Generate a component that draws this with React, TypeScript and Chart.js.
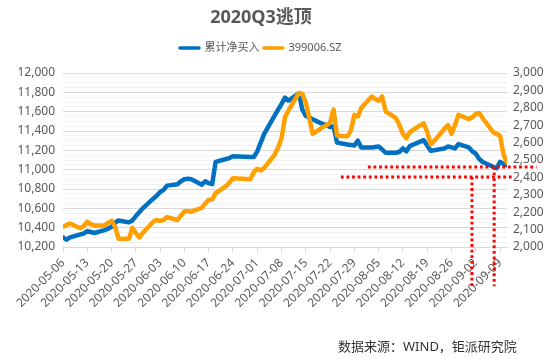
import { useEffect, useRef } from 'react';
import { Chart, registerables } from 'chart.js';

Chart.register(...registerables);

const titleText = '2020Q3逃顶';
const sourceText = '数据来源：WIND，钜派研究院';
const seriesNames = ['累计净买入', '399006.SZ'];

const dates = [
  '2020-05-06', '2020-05-07', '2020-05-08', '2020-05-11', '2020-05-12', '2020-05-13', '2020-05-14', '2020-05-15',
  '2020-05-18', '2020-05-19', '2020-05-20', '2020-05-21', '2020-05-22', '2020-05-25', '2020-05-26', '2020-05-27',
  '2020-05-28', '2020-05-29', '2020-06-01', '2020-06-02', '2020-06-03', '2020-06-04', '2020-06-05', '2020-06-08',
  '2020-06-09', '2020-06-10', '2020-06-11', '2020-06-12', '2020-06-15', '2020-06-16', '2020-06-17', '2020-06-18',
  '2020-06-19', '2020-06-22', '2020-06-23', '2020-06-24', '2020-06-29', '2020-06-30', '2020-07-01', '2020-07-02',
  '2020-07-03', '2020-07-06', '2020-07-07', '2020-07-08', '2020-07-09', '2020-07-10', '2020-07-13', '2020-07-14',
  '2020-07-15', '2020-07-16', '2020-07-17', '2020-07-20', '2020-07-21', '2020-07-22', '2020-07-23', '2020-07-24',
  '2020-07-27', '2020-07-28', '2020-07-29', '2020-07-30', '2020-07-31', '2020-08-03', '2020-08-04', '2020-08-05',
  '2020-08-06', '2020-08-07', '2020-08-10', '2020-08-11', '2020-08-12', '2020-08-13', '2020-08-14', '2020-08-17',
  '2020-08-18', '2020-08-19', '2020-08-20', '2020-08-21', '2020-08-24', '2020-08-25', '2020-08-26', '2020-08-27',
  '2020-08-28', '2020-08-31', '2020-09-01', '2020-09-02', '2020-09-03', '2020-09-04', '2020-09-07', '2020-09-08',
  '2020-09-09', '2020-09-10', '2020-09-11',
];

const netBuy = [
  10300, 10275, 10300, 10330, 10340, 10365, 10355, 10345,
  10375, 10390, 10410, 10450, 10475, 10455, 10475, 10520,
  10560, 10600, 10700, 10730, 10770, 10790, 10835, 10850,
  10880, 10900, 10905, 10900, 10845, 10880, 10860, 10850,
  11080, 11110, 11120, 11140, 11130, 11130, 11190, 11280,
  11370, 11560, 11620, 11680, 11745, 11715, 11790, 11620,
  11555, 11540, 11520, 11470, 11460, 11440, 11450, 11280,
  11260, 11255, 11250, 11300, 11230, 11230, 11235, 11240,
  11210, 11175, 11175, 11185, 11220, 11190, 11245, 11290,
  11305, 11250, 11195, 11200, 11220, 11240, 11230, 11220,
  11265, 11230, 11190, 11165, 11110, 11080, 11030, 11015,
  11080, 11060, 11045,
];

const chinext = [
  2117, 2126, 2135, 2108, 2120, 2145, 2130, 2125,
  2122, 2140, 2150, 2118, 2048, 2048, 2110, 2080,
  2056, 2080, 2145, 2155, 2150, 2155, 2172, 2155,
  2180, 2205, 2205, 2203, 2225, 2250, 2272, 2273,
  2310, 2350, 2370, 2395, 2390, 2430, 2450, 2440,
  2455, 2530, 2570, 2625, 2745, 2785, 2885, 2880,
  2830, 2740, 2650, 2690, 2700, 2715, 2790, 2640,
  2636, 2670, 2760, 2750, 2800, 2865, 2850, 2840,
  2865, 2780, 2740, 2700, 2650, 2625, 2660, 2700,
  2710, 2660, 2590, 2610, 2680, 2700, 2650, 2700,
  2760, 2735, 2745, 2765, 2770, 2740, 2660, 2650,
  2640, 2530, 2485,
];

const tickDates = [
  '2020-05-06', '2020-05-13', '2020-05-20', '2020-05-27', '2020-06-03', '2020-06-10', '2020-06-17',
  '2020-06-24', '2020-07-01', '2020-07-08', '2020-07-15', '2020-07-22', '2020-07-29', '2020-08-05',
  '2020-08-12', '2020-08-19', '2020-08-26', '2020-09-02', '2020-09-09',
];

const leftRange = [10200, 12000];
const rightRange = [2000, 3000];

// red dotted guide lines, in data units (day offset from first date, left-axis value)
const hGuides = [
  { from: 87.9, to: 136.5, value: 11028 },
  { from: 80.1, to: 130.2, value: 10925 },
];
const vGuides = [
  { day: 117.9, from: 10925, to: 9795 },
  { day: 124.3, from: 11028, to: 9795 },
];

const BLUE = '#0070C0';
const ORANGE = '#FFA000';
const TEXT = '#595959';
const FONT = '"Noto Sans", "Noto Sans CJK SC", sans-serif';

const DAY = 86400000;
const toUTC = (s: string) => Date.UTC(+s.slice(0, 4), +s.slice(5, 7) - 1, +s.slice(8, 10));
const base = toUTC(dates[0]);
const dayOf = (s: string) => (toUTC(s) - base) / DAY;
const fmtDay = (v: number) => new Date(base + v * DAY).toISOString().slice(0, 10);

const overlayPlugin = {
  id: 'overlay',
  afterDatasetsDraw(chart: any) {
    const { ctx, scales } = chart;
    const xs = scales.x;
    const ys = scales.y;
    ctx.save();
    ctx.strokeStyle = '#FF0000';
    ctx.lineWidth = 3;
    ctx.setLineDash([2.8, 2.8]);
    for (const h of hGuides) {
      const py = ys.getPixelForValue(h.value);
      ctx.beginPath();
      ctx.moveTo(xs.getPixelForValue(h.from), py);
      ctx.lineTo(xs.getPixelForValue(h.to), py);
      ctx.stroke();
    }
    for (const v of vGuides) {
      const px = xs.getPixelForValue(v.day);
      ctx.beginPath();
      ctx.moveTo(px, ys.getPixelForValue(v.from));
      ctx.lineTo(px, ys.getPixelForValue(v.to));
      ctx.stroke();
    }
    ctx.restore();
  },
  afterDraw(chart: any) {
    const { ctx } = chart;
    ctx.save();
    ctx.fillStyle = TEXT;
    ctx.textBaseline = 'middle';
    ctx.textAlign = 'center';
    ctx.font = `bold 18px ${FONT}`;
    ctx.fillText(titleText, 261, 18);

    // legend
    ctx.font = `11px ${FONT}`;
    const lineLen = 22;
    const ds = chart.data.datasets;
    const widths = ds.map((d: any) => ctx.measureText(d.label).width);
    const total = ds.length * (lineLen + 4) + widths.reduce((a: number, b: number) => a + b, 0) + (ds.length - 1) * 3;
    let x = 260 - total / 2;
    const ly = 48;
    ctx.textAlign = 'left';
    ds.forEach((d: any, i: number) => {
      ctx.strokeStyle = d.borderColor;
      ctx.lineWidth = 3.5;
      ctx.lineCap = 'round';
      ctx.beginPath();
      ctx.moveTo(x + 1.5, ly);
      ctx.lineTo(x + lineLen - 1.5, ly);
      ctx.stroke();
      x += lineLen + 4;
      ctx.fillStyle = TEXT;
      ctx.fillText(d.label, x, ly);
      x += widths[i] + 3;
    });

    ctx.font = `13px ${FONT}`;
    ctx.fillStyle = '#333333';
    ctx.fillText(sourceText, 338, 347);
    ctx.restore();
  },
};

export default function App() {
  const ref = useRef<HTMLCanvasElement | null>(null);
  useEffect(() => {
    if (!ref.current) return;
    const chart = new Chart(ref.current, {
      type: 'line',
      data: {
        datasets: [
          {
            label: seriesNames[0],
            data: dates.map((d, i) => ({ x: dayOf(d), y: netBuy[i] })),
            borderColor: BLUE,
            backgroundColor: BLUE,
            borderWidth: 4.5,
            pointRadius: 0,
            tension: 0,
            yAxisID: 'y',
            order: 2,
            borderJoinStyle: 'round',
            borderCapStyle: 'round',
          },
          {
            label: seriesNames[1],
            data: dates.map((d, i) => ({ x: dayOf(d), y: chinext[i] })),
            borderColor: ORANGE,
            backgroundColor: ORANGE,
            borderWidth: 4.5,
            pointRadius: 0,
            tension: 0,
            yAxisID: 'y1',
            order: 1,
            borderJoinStyle: 'round',
            borderCapStyle: 'round',
          },
        ],
      },
      options: {
        animation: false,
        responsive: false,
        maintainAspectRatio: false,
        layout: { padding: { top: 73, left: 0, right: 0, bottom: 0 } },
        plugins: {
          legend: { display: false },
          title: { display: false },
          tooltip: { enabled: false },
        },
        scales: {
          x: {
            type: 'linear',
            min: 0,
            max: dayOf(dates[dates.length - 1]),
            afterBuildTicks: (s: any) => {
              s.ticks = tickDates.map((d) => ({ value: dayOf(d) }));
            },
            afterFit: (s: any) => {
              s.height = 112;
            },
            grid: { drawOnChartArea: false, drawTicks: true, tickLength: 5, color: '#d9d9d9' },
            border: { display: true, color: '#d9d9d9' },
            ticks: {
              autoSkip: false,
              maxRotation: 45,
              minRotation: 45,
              color: TEXT,
              padding: 4,
              font: { family: FONT, size: 12 },
              callback: (v: any) => fmtDay(Number(v)),
            },
          },
          y: {
            position: 'left',
            min: leftRange[0],
            max: leftRange[1],
            afterFit: (s: any) => {
              s.width = 63;
            },
            border: { display: false },
            grid: {
              drawTicks: false,
              color: (c: any) => (c.tick && c.tick.value % 200 === 0 ? '#d9d9d9' : '#f2f2f2'),
            },
            ticks: {
              stepSize: 50,
              autoSkip: false,
              padding: 8,
              color: TEXT,
              font: { family: FONT, size: 12 },
              callback: (v: any) => (Number(v) % 200 === 0 ? Number(v).toLocaleString('en-US') : ''),
            },
          },
          y1: {
            position: 'right',
            min: rightRange[0],
            max: rightRange[1],
            afterFit: (s: any) => {
              s.width = 43;
            },
            border: { display: false },
            grid: { drawOnChartArea: false, drawTicks: false },
            ticks: {
              stepSize: 100,
              autoSkip: false,
              padding: 6,
              color: TEXT,
              font: { family: FONT, size: 12 },
              callback: (v: any) => Number(v).toLocaleString('en-US'),
            },
          },
        },
      },
      plugins: [overlayPlugin],
    });
    return () => chart.destroy();
  }, []);

  return (
    <div style={{ position: 'absolute', left: 0, top: 0, width: 550, height: 359 }}>
      <canvas ref={ref} width={550} height={359} style={{ display: 'block' }} />
    </div>
  );
}
